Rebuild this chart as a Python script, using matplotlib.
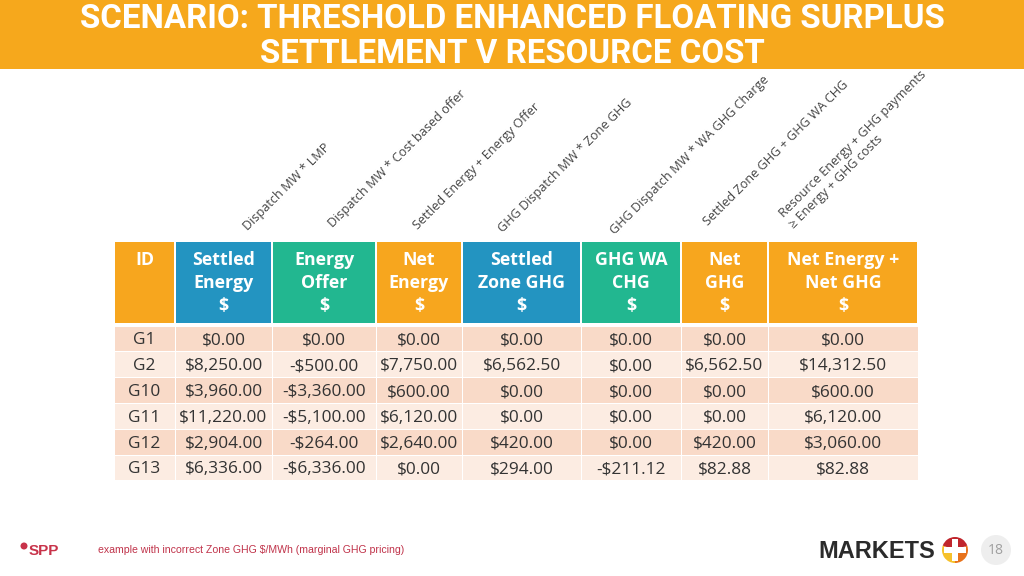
import matplotlib.pyplot as plt
from matplotlib.patches import Rectangle, Circle, Wedge

# table data
ids = ['G1', 'G2', 'G10', 'G11', 'G12', 'G13']
settled_energy = [0.00, 8250.00, 3960.00, 11220.00, 2904.00, 6336.00]
energy_offer = [0.00, -500.00, -3360.00, -5100.00, -264.00, -6336.00]
net_energy = [0.00, 7750.00, 600.00, 6120.00, 2640.00, 0.00]
settled_zone_ghg = [0.00, 6562.50, 0.00, 0.00, 420.00, 294.00]
ghg_wa_chg = [0.00, 0.00, 0.00, 0.00, 0.00, -211.12]
net_ghg = [0.00, 6562.50, 0.00, 0.00, 420.00, 82.88]
net_total = [0.00, 14312.50, 600.00, 6120.00, 3060.00, 82.88]

headers = ['ID', 'Settled\nEnergy\n\\$', 'Energy\nOffer\n\\$', 'Net\nEnergy\n\\$',
           'Settled\nZone GHG\n\\$', 'GHG WA\nCHG\n\\$', 'Net\nGHG\n\\$',
           'Net Energy +\nNet GHG\n\\$']
formulas = ['Dispatch MW * LMP', 'Dispatch MW * Cost based offer',
            'Settled Energy + Energy Offer', 'GHG Dispatch MW * Zone GHG',
            'GHG Dispatch MW * WA GHG Charge', 'Settled Zone GHG + GHG WA CHG',
            'Resource Energy + GHG payments', '\u2265 Energy + GHG costs']

title_lines = ['SCENARIO: THRESHOLD ENHANCED FLOATING SURPLUS',
               'SETTLEMENT V RESOURCE COST']
footnote = 'example with incorrect Zone GHG \\$/MWh (marginal GHG pricing)'
page_no = '18'

ORANGE = '#F7A61E'
BLUE = '#2394C1'
GREEN = '#22B790'
header_colors = [ORANGE, BLUE, GREEN, ORANGE, BLUE, GREEN, ORANGE, ORANGE]
row_colors = ['#F9DAC8', '#FCECE2']

# layout (pixels)
col_edges = [114, 175, 272, 376, 462, 581, 681, 768, 918]
head_top, head_bot = 242, 323
row_top, row_h = 326, 25.8
formula_pos = [(248, 231), (333, 228), (418, 230), (503, 233), (615, 235),
               (708, 226), (784, 218), (794, 229)]


def money(v):
    s = '${:,.2f}'.format(abs(v))
    return '-' + s if v < 0 else s


font = ['Open Sans', 'DejaVu Sans']

fig = plt.figure(figsize=(10.24, 5.76), dpi=100)
ax = fig.add_axes([0, 0, 1, 1])
ax.set_xlim(0, 1024)
ax.set_ylim(576, 0)
ax.axis('off')

# title band
ax.add_patch(Rectangle((0, 0), 1024, 69, color='#F6A81C', lw=0))
for i, line in enumerate(title_lines):
    ax.text(512, 19 + 35 * i, line, ha='center', va='center', color='white',
            fontsize=23.8, fontweight='bold', family=['Roboto', 'DejaVu Sans'])

# rotated formula labels
for lab, (x, y) in zip(formulas, formula_pos):
    ax.text(x, y, lab, rotation=45, rotation_mode='anchor', ha='left', va='baseline',
            fontsize=9.1, color='#444444', family=font)

# header cells
for i, h in enumerate(headers):
    x0, x1 = col_edges[i], col_edges[i + 1]
    ax.add_patch(Rectangle((x0 + 1, head_top), x1 - x0 - 2, head_bot - head_top,
                           color=header_colors[i], lw=0))
    ax.text((x0 + x1) / 2, 251, h, ha='center', va='top', color='white',
            fontsize=12.8, fontweight='bold', family=font, linespacing=1.34)

# body cells
columns = [ids, settled_energy, energy_offer, net_energy, settled_zone_ghg,
           ghg_wa_chg, net_ghg, net_total]
for r in range(len(ids)):
    y0 = row_top + r * row_h
    for c, col in enumerate(columns):
        x0, x1 = col_edges[c], col_edges[c + 1]
        ax.add_patch(Rectangle((x0 + 0.5, y0 + 0.5), x1 - x0 - 1, row_h - 1,
                               color=row_colors[r % 2], lw=0))
        val = col[r] if c == 0 else money(col[r])
        ax.text((x0 + x1) / 2, y0 + row_h / 2 + 1.5, val, ha='center', va='center',
                fontsize=12.4, color='#333333', family=font)

# footer
ax.add_patch(Circle((24, 546), 3.5, color='#C8334A', lw=0))
ax.text(29, 551, 'SPP', ha='left', va='center', fontsize=11, color='#C8334A',
        fontweight='bold', family=['Liberation Sans', 'DejaVu Sans'])
ax.text(98, 550, footnote, ha='left', va='center', fontsize=7.6,
        color='#C0334A', family=['Liberation Sans', 'DejaVu Sans'])

ax.text(818, 551, 'MARKETS', ha='left', va='center', fontsize=17, fontweight='heavy',
        color='#2B2B2B', family=['Liberation Sans', 'DejaVu Sans'])
cx, cy, rad = 955, 550, 13
ax.add_patch(Wedge((cx, cy), rad, 90, 200, color='#F6C12B', lw=0))
ax.add_patch(Wedge((cx, cy), rad, -20, 90, color='#E8731C', lw=0))
ax.add_patch(Wedge((cx, cy), rad, 200, 340, color='#C0262D', lw=0))
ax.add_patch(Rectangle((cx - 3, cy - 11), 6, 22, color='white', lw=0))
ax.add_patch(Rectangle((cx - 11, cy - 3), 22, 6, color='white', lw=0))

ax.add_patch(Circle((996, 550), 15, color='#EEEEEE', lw=0))
ax.text(996, 551, page_no, ha='center', va='center', fontsize=10, color='#A0A0A0',
        family=font)

fig.savefig('out.png', dpi=100)
